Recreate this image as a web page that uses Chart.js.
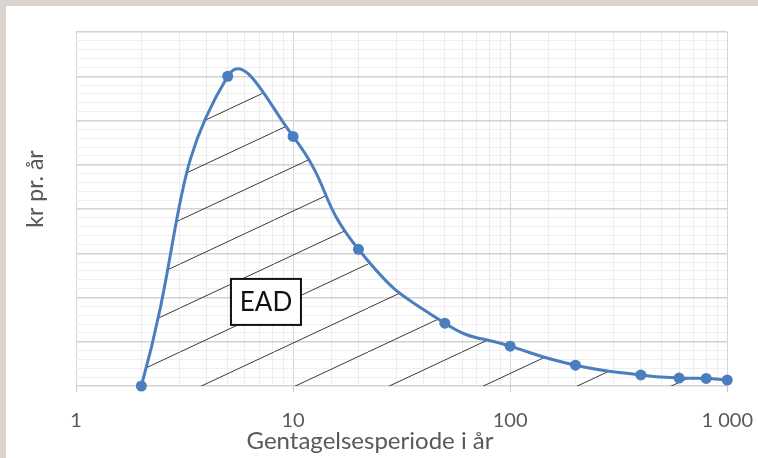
<!DOCTYPE html>
<html>
<head>
<meta charset="utf-8">
<script src="https://cdn.jsdelivr.net/npm/chart.js@4/dist/chart.umd.min.js"></script>
<style>
  html, body { margin: 0; padding: 0; background: #ffffff; }
  #wrap { position: absolute; left: 0; top: 0; width: 758px; height: 458px; }
  .strip { position: absolute; background: #dbd3cd; pointer-events: none; }
</style>
</head>
<body>
<div id="wrap"><canvas id="eadChart"></canvas></div>
<div class="strip" style="left:0;top:0;width:758px;height:6px"></div>
<div class="strip" style="left:0;top:0;width:6px;height:458px"></div>
<script>
// return periods (years) and damage per year
const periods = [2, 5, 10, 20, 50, 100, 200, 400, 600, 800, 1000];
const damage = [0, 7.0, 5.64, 3.09, 1.42, 0.90, 0.47, 0.25, 0.18, 0.17, 0.135];
const xMajorTicks = [1, 10, 100, 1000];
const xTickLabels = ['1', '10', '100', '1 000'];

const xTitle = 'Gentagelsesperiode i år';
const yTitle = 'kr pr. år';

const blue = '#4a7ebf';
const textGrey = '#595959';

// diagonal hatching for the area under the curve
function makeHatch() {
    const w = 94, h = 44;
    const c = document.createElement('canvas');
    c.width = w; c.height = h;
    const g = c.getContext('2d');
    g.strokeStyle = '#3a3a3a';
    g.lineWidth = 1;
    g.beginPath();
    g.moveTo(-w, h); g.lineTo(0, 0);
    g.moveTo(0, h); g.lineTo(w, 0);
    g.moveTo(w, h); g.lineTo(2 * w, 0);
    g.stroke();
    const p = document.getElementById('eadChart').getContext('2d').createPattern(c, 'repeat');
    p.setTransform(new DOMMatrix().translate(-8, 0));
    return p;
}

const eadLabel = { text: 'EAD', x: 7.5, y: 1.9 };

// EAD box, small major tick marks and axis titles (Excel puts the titles a bit off-centre)
const extras = {
    id: 'extras',
    afterDatasetsDraw(chart) {
        const ctx = chart.ctx;
        const area = chart.chartArea;
        const xs = chart.scales.x;
        ctx.save();
        ctx.strokeStyle = '#c8c8c8';
        ctx.lineWidth = 1;
        ctx.beginPath();
        xMajorTicks.forEach(v => {
            const px = Math.round(xs.getPixelForValue(v)) + 0.5;
            ctx.moveTo(px, area.bottom);
            ctx.lineTo(px, area.bottom + 6);
        });
        ctx.stroke();

        const cx = xs.getPixelForValue(eadLabel.x);
        const cy = chart.scales.y.getPixelForValue(eadLabel.y);
        const bw = 70, bh = 46;
        ctx.fillStyle = '#ffffff';
        ctx.fillRect(cx - bw / 2, cy - bh / 2, bw, bh);
        ctx.strokeStyle = '#111111';
        ctx.lineWidth = 2;
        ctx.strokeRect(cx - bw / 2, cy - bh / 2, bw, bh);
        ctx.fillStyle = '#111111';
        ctx.font = '26px Lato';
        ctx.textAlign = 'center';
        ctx.textBaseline = 'middle';
        ctx.fillText(eadLabel.text, cx, cy + 1);

        ctx.fillStyle = textGrey;
        ctx.font = '24px Lato';
        ctx.fillText(xTitle, area.left + 294, area.bottom + 55);

        ctx.translate(area.left - 40, area.top + 157);
        ctx.rotate(-Math.PI / 2);
        ctx.font = '23px Lato';
        ctx.fillText(yTitle, 0, 0);
        ctx.restore();
    }
};

const isWhole = v => Math.abs(v - Math.round(v)) < 1e-6;

new Chart(document.getElementById('eadChart'), {
    type: 'line',
    data: {
        labels: periods,
        datasets: [{
            data: periods.map((p, i) => ({ x: p, y: damage[i] })),
            borderColor: blue,
            borderWidth: 3,
            backgroundColor: makeHatch(),
            fill: 'origin',
            tension: 0.5,
            pointRadius: 5.5,
            pointBackgroundColor: blue,
            pointBorderWidth: 0,
            clip: false
        }]
    },
    options: {
        responsive: true,
        maintainAspectRatio: false,
        animation: false,
        layout: { padding: { left: 76, right: 10, top: 32, bottom: 20 } },
        plugins: {
            legend: { display: false },
            tooltip: { enabled: false }
        },
        scales: {
            x: {
                type: 'logarithmic',
                min: 1,
                max: 1000,
                grid: {
                    color: c => c.tick && c.tick.major ? '#d6d6d6' : '#ececec',
                    tickColor: 'rgba(0,0,0,0)',
                    tickLength: 18
                },
                border: { display: false },
                ticks: {
                    autoSkip: false,
                    maxRotation: 0,
                    padding: 5,
                    color: textGrey,
                    font: { family: 'Lato', size: 20 },
                    callback: v => {
                        const i = xMajorTicks.indexOf(v);
                        return i >= 0 ? xTickLabels[i] : '';
                    }
                }
            },
            y: {
                min: 0,
                max: 8,
                grid: {
                    color: c => c.tick && isWhole(c.tick.value) ? '#d2d2d2' : '#efefef',
                    lineWidth: c => c.tick && isWhole(c.tick.value) ? 1.5 : 1,
                    drawTicks: false
                },
                border: { display: false },
                ticks: { display: false, stepSize: 0.2, autoSkip: false }
            }
        }
    },
    plugins: [extras]
});
</script>
</body>
</html>
